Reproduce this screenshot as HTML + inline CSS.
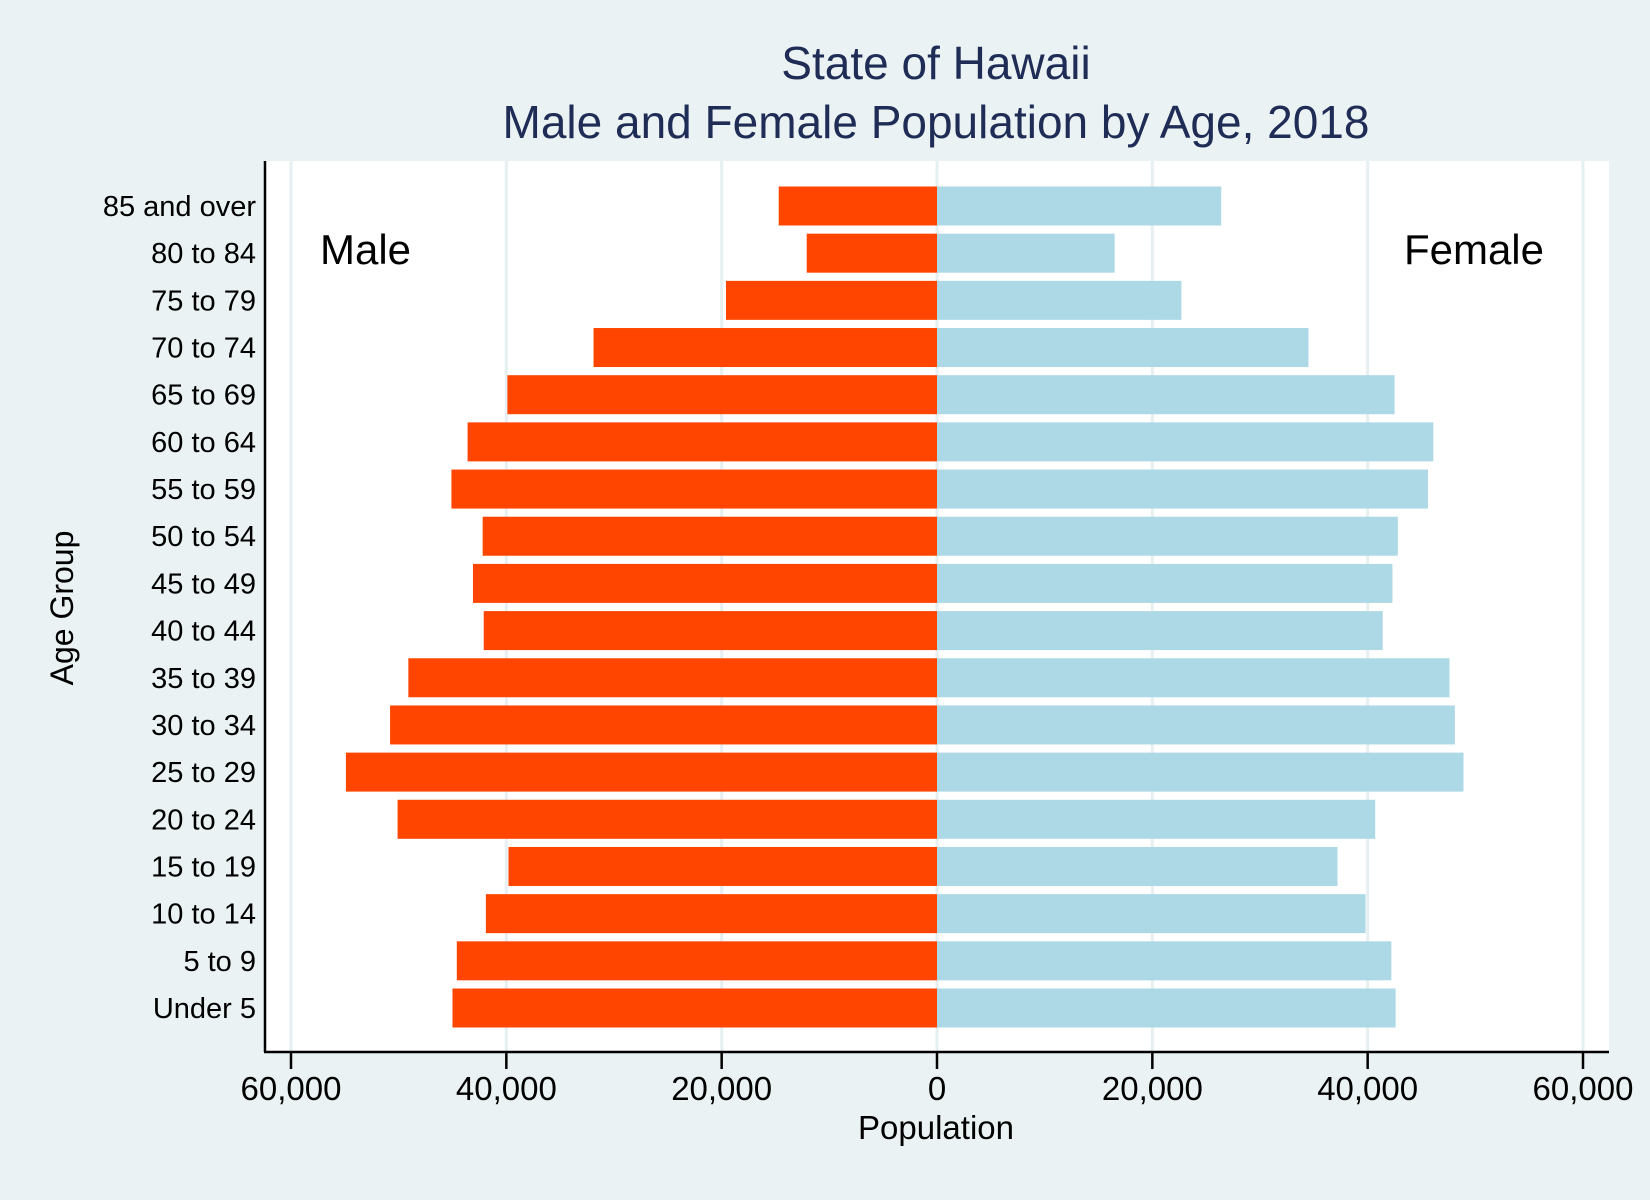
<!DOCTYPE html>
<html><head><meta charset="utf-8"><style>
body{margin:0;background:#eaf2f3;}
svg{display:block;font-family:"Liberation Sans",Arial,sans-serif;}
</style></head><body>
<svg id="chart" width="1650" height="1200" viewBox="0 0 1650 1200">
<rect width="1650" height="1200" fill="#eaf2f3"/>
<text x="936" y="79" font-size="46" fill="#1f2d56" text-anchor="middle">State of Hawaii</text>
<text x="936" y="138" font-size="46" fill="#1f2d56" text-anchor="middle">Male and Female Population by Age, 2018</text>
<rect x="265" y="161" width="1344" height="890" fill="#ffffff"/>
<g id="grid"></g>
<g id="bars"></g>
<line x1="265" y1="161" x2="265" y2="1052" stroke="#000" stroke-width="2.5"/>
<line x1="264" y1="1052" x2="1609" y2="1052" stroke="#000" stroke-width="2.5"/>
<g id="xticks"></g>
<g id="yticks"></g>
<text x="320" y="264" font-size="42" fill="#000">Male</text>
<text x="1544" y="264" font-size="42" fill="#000" text-anchor="end">Female</text>
<text x="936" y="1139" font-size="33" fill="#000" text-anchor="middle">Population</text>
<text transform="translate(73,608) rotate(-90)" font-size="32" fill="#000" text-anchor="middle">Age Group</text>
</svg>
<script>
const categories=["85 and over","80 to 84","75 to 79","70 to 74","65 to 69","60 to 64","55 to 59","50 to 54","45 to 49","40 to 44","35 to 39","30 to 34","25 to 29","20 to 24","15 to 19","10 to 14","5 to 9","Under 5"];
const maleValues=[14700,12100,19600,31900,39900,43600,45100,42200,43100,42100,49100,50800,54900,50100,39800,41900,44600,45000];
const femaleValues=[26400,16500,22700,34500,42500,46100,45600,42800,42300,41400,47600,48100,48900,40700,37200,39800,42200,42600];
const xTickValues=[-60000,-40000,-20000,0,20000,40000,60000];
const xTickLabels=["60,000","40,000","20,000","0","20,000","40,000","60,000"];
const NS="http://www.w3.org/2000/svg";
const x0=937, pxPer=(1582-290)/120000;
function xScale(v){return x0+v*pxPer;}
const yTop=206, yStep=(1008-206)/17, barH=39;
function yScale(i){return yTop+i*yStep;}
function mk(tag,attrs,parent){const e=document.createElementNS(NS,tag);for(const k in attrs)e.setAttribute(k,attrs[k]);parent.appendChild(e);return e;}
const grid=document.getElementById('grid'),bars=document.getElementById('bars'),xt=document.getElementById('xticks'),yt=document.getElementById('yticks');
xTickValues.forEach((v,i)=>{
  const x=xScale(v);
  const g=mk('line',{x1:x,x2:x,y1:161,y2:1051,stroke:'#e6f0f2','stroke-width':3},grid);
  
  
  const t=mk('line',{x1:x,x2:x,y1:1052,y2:1069,stroke:'#000','stroke-width':2.5},xt);
  
  
  const l=mk('text',{x:x,y:1100,'font-size':33,'text-anchor':'middle',fill:'#000'},xt);
  l.textContent=xTickLabels[i];
  
  
});
categories.forEach((c,i)=>{
  const y=yScale(i);
  const m=mk('rect',{x:xScale(-maleValues[i]),y:y-barH/2,width:maleValues[i]*pxPer,height:barH,fill:'#ff4500'},bars);
  
  
  const f=mk('rect',{x:x0,y:y-barH/2,width:femaleValues[i]*pxPer,height:barH,fill:'#add8e6'},bars);
  
  
  const l=mk('text',{x:256,y:y+10,'font-size':29,'text-anchor':'end',fill:'#000'},yt);
  l.textContent=c;
  
  
});
</script>
</body></html>
